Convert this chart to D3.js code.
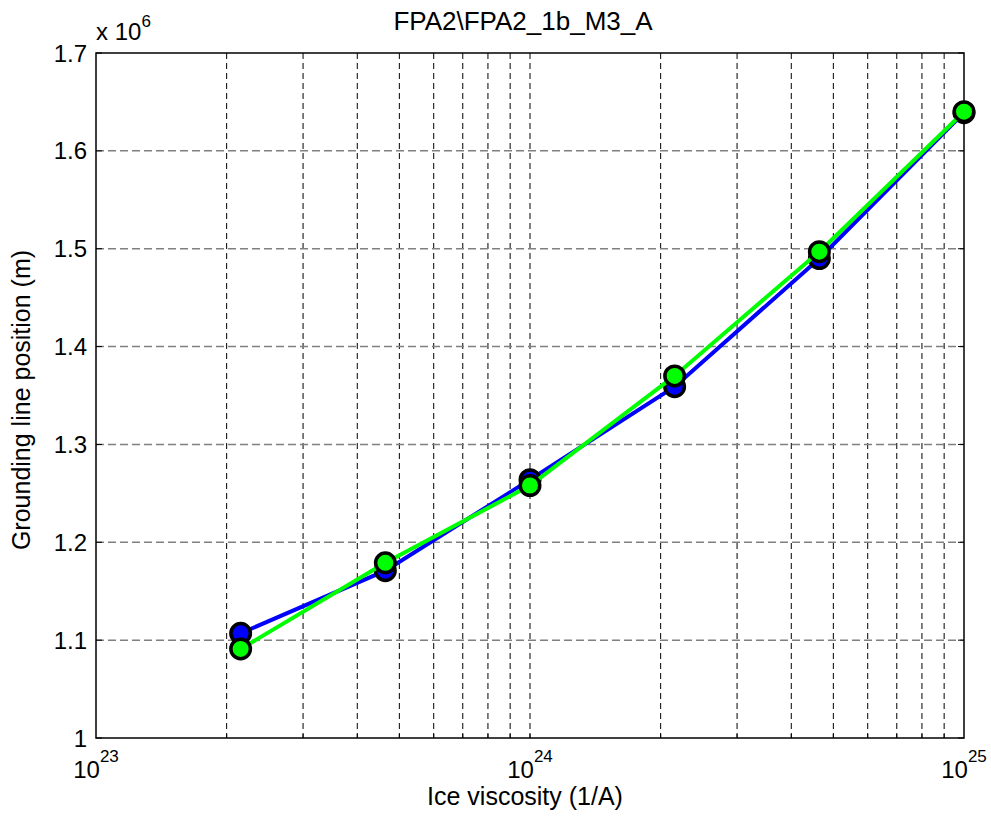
<!DOCTYPE html>
<html>
<head>
<meta charset="utf-8">
<script src="https://cdn.jsdelivr.net/npm/d3@7"></script>
<style>
  body { margin: 0; background: #fff; }
  text { font-family: "Liberation Sans", Arial, sans-serif; fill: #000; }
</style>
</head>
<body>
<div id="chart"></div>
<script>
// viscosity values (1/A), log spaced
const viscosity = [2.154e23, 4.642e23, 1e24, 2.154e24, 4.642e24, 1e25]
// grounding line position, in units of 1e6 m
const blueSeries = [1.107, 1.171, 1.264, 1.359, 1.490, 1.639]
const greenSeries = [1.091, 1.179, 1.258, 1.370, 1.497, 1.640]
const yTicks = [1, 1.1, 1.2, 1.3, 1.4, 1.5, 1.6, 1.7]
const xDecades = [23, 24, 25]

const W = 991, H = 820
const margin = { top: 53, left: 96, right: 27, bottom: 82 }
const width = W - margin.left - margin.right
const height = H - margin.top - margin.bottom

var svg = d3.select('#chart')
  .append('svg')
  .attr('width', W)
  .attr('height', H)

var g = svg.append('g')
  .attr('transform', 'translate(' + margin.left + ',' + margin.top + ')')

var x = d3.scaleLog().domain([1e23, 1e25]).range([0, width])
var y = d3.scaleLinear().domain([1, 1.7]).range([height, 0])

// minor log grid (vertical, black dashed)
var minor = []
xDecades.slice(0, -1).forEach(function(e) {
  for (var k = 2; k <= 9; k++) minor.push(k * Math.pow(10, e))
})
minor.push(1e24)

g.selectAll('.vgrid')
  .data(minor)
  .enter().append('line')
  .attr('class', 'vgrid')
  .attr('x1', d => x(d)).attr('x2', d => x(d))
  .attr('y1', 0).attr('y2', height)
  .attr('stroke', '#000')
  .attr('stroke-width', 1)
  .attr('stroke-dasharray', '6,4')

// horizontal grid (gray dashed)
g.selectAll('.hgrid')
  .data(yTicks.slice(1, -1))
  .enter().append('line')
  .attr('class', 'hgrid')
  .attr('x1', 0).attr('x2', width)
  .attr('y1', d => y(d)).attr('y2', d => y(d))
  .attr('stroke', '#808080')
  .attr('stroke-width', 1.5)
  .attr('stroke-dasharray', '8,4')

// inward ticks
g.selectAll('.ytick')
  .data(yTicks)
  .enter().append('line')
  .attr('x1', 0).attr('x2', 6)
  .attr('y1', d => y(d)).attr('y2', d => y(d))
  .attr('stroke', '#000')
g.selectAll('.ytick2')
  .data(yTicks)
  .enter().append('line')
  .attr('x1', width).attr('x2', width - 6)
  .attr('y1', d => y(d)).attr('y2', d => y(d))
  .attr('stroke', '#000')
g.selectAll('.xtick')
  .data(minor)
  .enter().append('line')
  .attr('x1', d => x(d)).attr('x2', d => x(d))
  .attr('y1', height).attr('y2', height - 4)
  .attr('stroke', '#000')

// box
g.append('rect')
  .attr('width', width)
  .attr('height', height)
  .attr('fill', 'none')
  .attr('stroke', '#000')
  .attr('stroke-width', 1.5)

// y tick labels
g.selectAll('.ylab')
  .data(yTicks)
  .enter().append('text')
  .attr('x', -9)
  .attr('y', d => y(d))
  .attr('dy', '0.36em')
  .attr('text-anchor', 'end')
  .attr('font-size', 24)
  .text(d => d3.format('~g')(d))

// x tick labels 10^n
var xl = g.selectAll('.xlab')
  .data(xDecades)
  .enter().append('text')
  .attr('x', d => x(Math.pow(10, d)))
  .attr('y', height + 40)
  .attr('text-anchor', 'middle')
  .attr('font-size', 24)
xl.append('tspan').text('10')
xl.append('tspan')
  .attr('dy', -16)
  .attr('font-size', 17)
  .text(d => d)

// multiplier
var mult = g.append('text')
  .attr('x', 0)
  .attr('y', -13)
  .attr('font-size', 24)
mult.append('tspan').text('x 10')
mult.append('tspan').attr('dy', -13).attr('font-size', 17).text('6')

// title
svg.append('text')
  .attr('x', 523)
  .attr('y', 30)
  .attr('text-anchor', 'middle')
  .attr('font-size', 26)
  .text('FPA2\\FPA2_1b_M3_A')

// axis labels
svg.append('text')
  .attr('x', 525)
  .attr('y', 805)
  .attr('text-anchor', 'middle')
  .attr('font-size', 25)
  .text('Ice viscosity (1/A)')

svg.append('text')
  .attr('transform', 'translate(29.5,400) rotate(-90)')
  .attr('text-anchor', 'middle')
  .attr('font-size', 25)
  .text('Grounding line position (m)')

// series
var series = [
  { values: blueSeries, color: '#0000ff' },
  { values: greenSeries, color: '#00ff00' }
]

var line = d3.line()
  .x(d => x(d[0]))
  .y(d => y(d[1]))

series.forEach(function(s) {
  var pts = viscosity.map((v, i) => [v, s.values[i]])
  g.append('path')
    .datum(pts)
    .attr('d', line)
    .attr('fill', 'none')
    .attr('stroke', s.color)
    .attr('stroke-width', 4)
  g.selectAll('.pt')
    .data(pts)
    .enter().append('circle')
    .attr('cx', d => x(d[0]))
    .attr('cy', d => y(d[1]))
    .attr('r', 9.75)
    .attr('fill', s.color)
    .attr('stroke', '#000')
    .attr('stroke-width', 3.5)
})
</script>
</body>
</html>
